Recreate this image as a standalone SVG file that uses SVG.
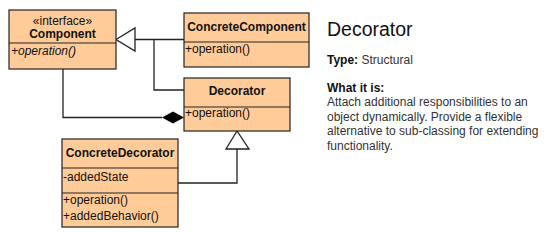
<svg xmlns="http://www.w3.org/2000/svg" width="547" height="233" viewBox="0 0 547 233">
<style>
.box{fill:#ffcc99;stroke:#222;stroke-width:1.2}
.div{stroke:#222;stroke-width:1.2}
.t{font-family:"Liberation Sans",Arial,sans-serif;font-size:12px;fill:#111}
.b{font-weight:bold}
.c{text-anchor:middle}
.ln{fill:none;stroke:#222;stroke-width:1.3}
.tri{fill:#fff;stroke:#222;stroke-width:1.3}
.g{fill:#333}
.h{font-size:19.5px}
</style>
<rect width="547" height="233" fill="#fff"/>
<g id="connectors">
<path class="ln" d="M135,39.5 H184 M154,39.5 V90 H184"/>
<polygon class="tri" points="116,39.5 135,28 135,51"/>
<path class="ln" d="M63,69 V117.5 H162"/>
<polygon points="162,117.5 173,111.5 184,117.5 173,123.5" fill="#000"/>
<path class="ln" d="M237,149 V183 H178"/>
<polygon class="tri" points="237,131 226,149 249,149"/>
</g>
<g id="component">
<rect class="box" x="9" y="10" width="107" height="59"/>
<line class="div" x1="9" y1="43" x2="116" y2="43"/>
<text class="t c" x="62.5" y="25">«interface»</text>
<text class="t c b" x="62.5" y="37.5">Component</text>
<text class="t" x="11" y="55" font-style="italic">+operation()</text>
</g>
<g id="concreteComponent">
<rect class="box" x="184" y="13" width="125" height="54"/>
<line class="div" x1="184" y1="42" x2="309" y2="42"/>
<text class="t c b" x="246.5" y="31">ConcreteComponent</text>
<text class="t" x="185" y="53">+operation()</text>
</g>
<g id="decorator">
<rect class="box" x="184" y="78" width="106" height="53"/>
<line class="div" x1="184" y1="107" x2="290" y2="107"/>
<text class="t c b" x="237" y="95">Decorator</text>
<text class="t" x="185" y="117">+operation()</text>
</g>
<g id="concreteDecorator">
<rect class="box" x="62" y="139" width="116" height="88"/>
<line class="div" x1="62" y1="168" x2="178" y2="168"/>
<line class="div" x1="62" y1="193" x2="178" y2="193"/>
<text class="t c b" x="120" y="157">ConcreteDecorator</text>
<text class="t" x="63" y="181">-addedState</text>
<text class="t" x="63" y="204">+operation()</text>
<text class="t" x="63" y="220">+addedBehavior()</text>
</g>
<g id="description">
<text class="t h" x="327" y="36">Decorator</text>
<text class="t" x="327" y="64"><tspan class="b">Type:</tspan><tspan class="g"> Structural</tspan></text>
<text class="t b" x="327" y="92">What it is:</text>
<text class="t g" x="327" y="106">Attach additional responsibilities to an</text>
<text class="t g" x="327" y="120.5">object dynamically. Provide a flexible</text>
<text class="t g" x="327" y="135">alternative to sub-classing for extending</text>
<text class="t g" x="327" y="149.5">functionality.</text>
</g>
</svg>
